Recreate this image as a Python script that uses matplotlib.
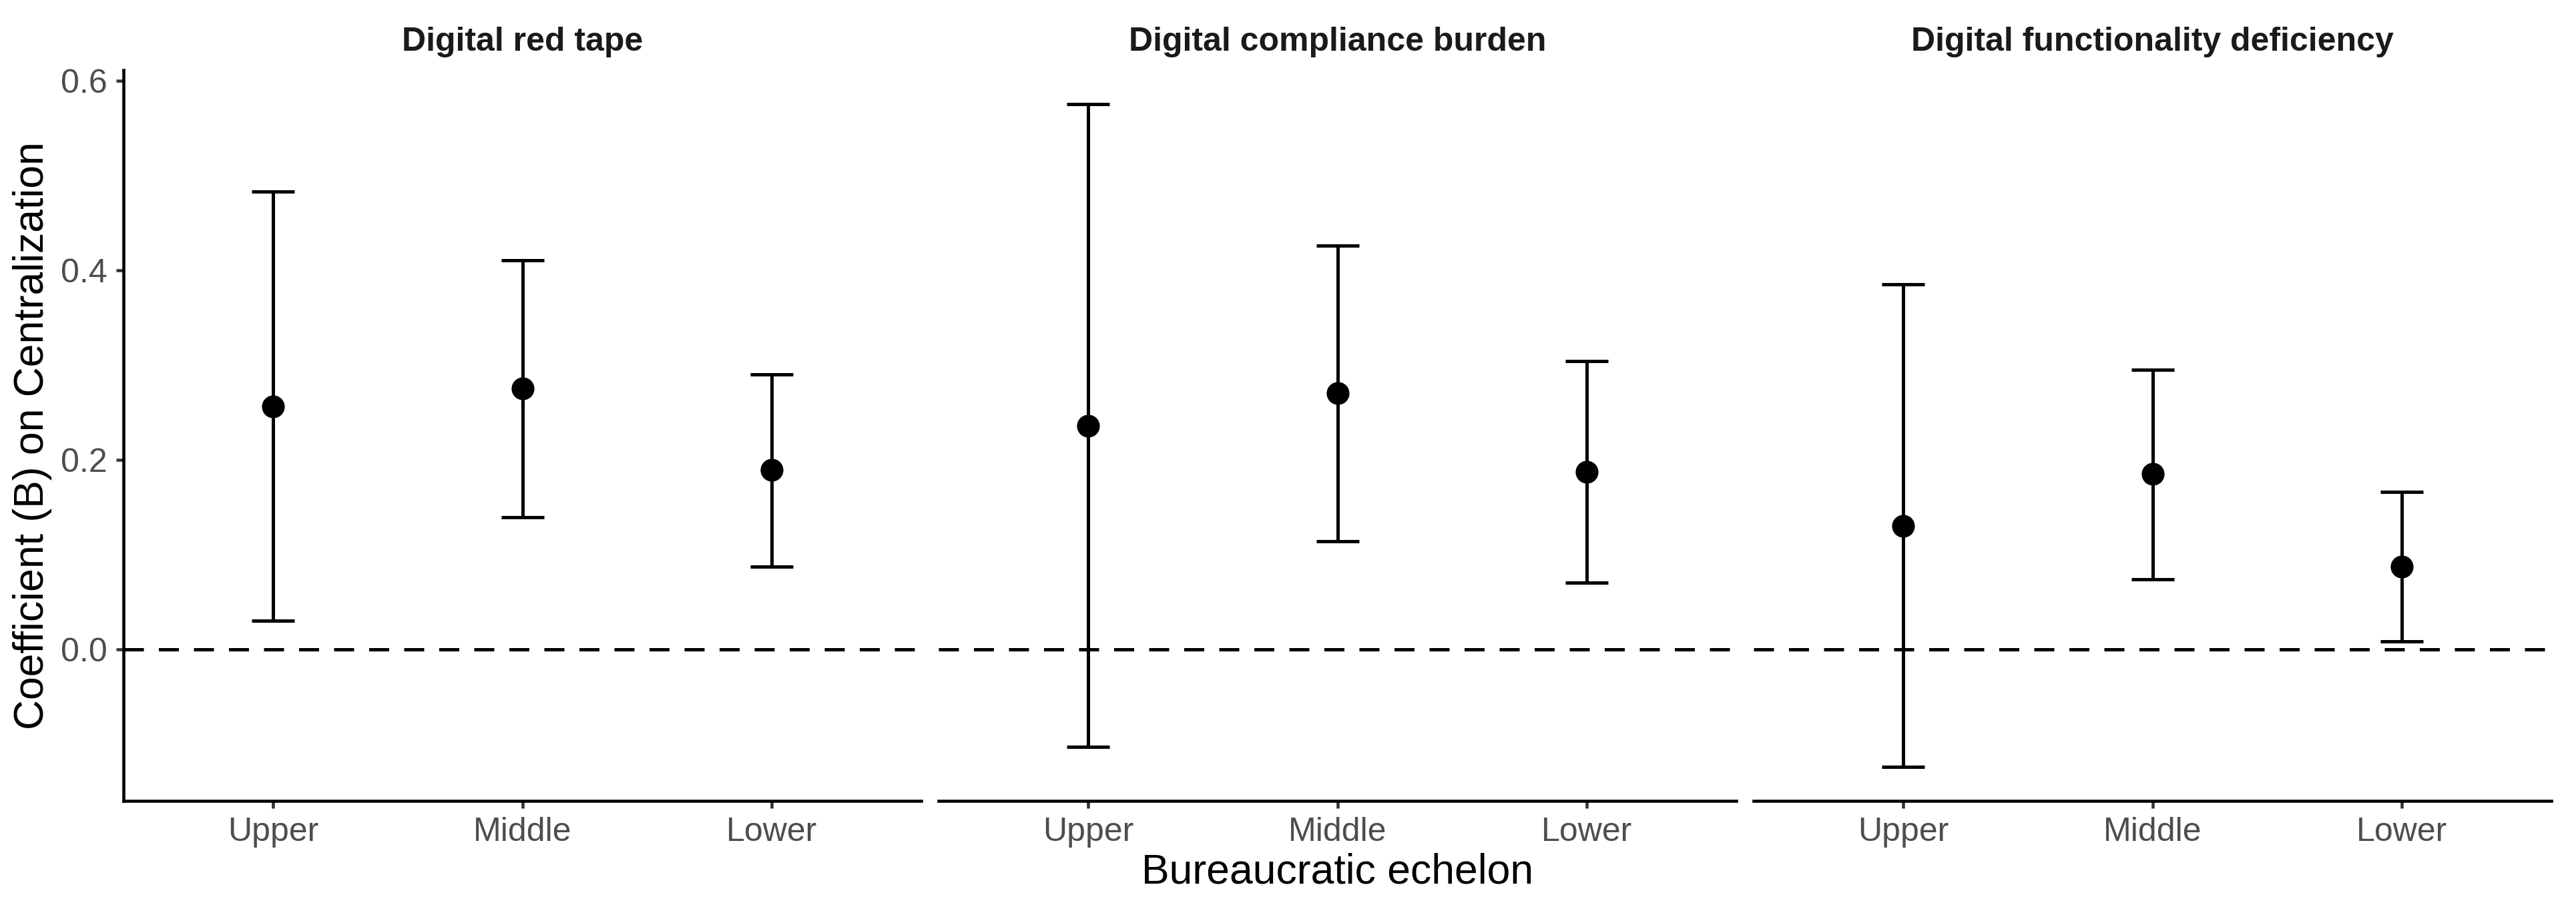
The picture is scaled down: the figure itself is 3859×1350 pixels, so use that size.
import numpy as np
import matplotlib.pyplot as plt

plt.rcParams['font.family'] = ['Liberation Sans', 'DejaVu Sans']

# Data
panels = ["Digital red tape", "Digital compliance burden", "Digital functionality deficiency"]
echelons = ["Upper", "Middle", "Lower"]

coef_red_tape = [0.256, 0.275, 0.189]
lo_red_tape = [0.030, 0.139, 0.087]
hi_red_tape = [0.483, 0.410, 0.290]

coef_compliance = [0.236, 0.270, 0.187]
lo_compliance = [-0.103, 0.114, 0.070]
hi_compliance = [0.575, 0.426, 0.304]

coef_function = [0.130, 0.185, 0.087]
lo_function = [-0.124, 0.074, 0.008]
hi_function = [0.385, 0.295, 0.166]

coefs = [coef_red_tape, coef_compliance, coef_function]
lows = [lo_red_tape, lo_compliance, lo_function]
highs = [hi_red_tape, hi_compliance, hi_function]

W, H = 3859, 1350
fig = plt.figure(figsize=(W / 300, H / 300), dpi=300)

lefts = [185, 1406, 2627]
pw = 1195
bottom_px, top_px = 1200, 105

axes = []
for i, name in enumerate(panels):
    ax = fig.add_axes([lefts[i] / W, 1 - bottom_px / H, pw / W, (bottom_px - top_px) / H])
    axes.append(ax)
    x = np.arange(1, 4)
    c = np.array(coefs[i])
    lo = np.array(lows[i])
    hi = np.array(highs[i])
    ax.axhline(0, color="black", lw=1.2, linestyle=(0, (6, 4.5)), zorder=1)
    ax.errorbar(x, c, yerr=[c - lo, hi - c], fmt="none", ecolor="black",
                elinewidth=1.2, capsize=7.7, capthick=1.2, zorder=2)
    ax.plot(x, c, "o", color="black", markersize=7.2, zorder=3)

    ax.set_xlim(0.4, 3.6)
    ax.set_ylim(-0.160, 0.611)
    ax.set_xticks(x)
    ax.set_xticklabels(echelons)
    ax.set_yticks([0.0, 0.2, 0.4, 0.6])
    ax.set_yticklabels(["0.0", "0.2", "0.4", "0.6"])
    for s in ["top", "right"]:
        ax.spines[s].set_visible(False)
    ax.spines["bottom"].set_linewidth(1.1)
    ax.spines["left"].set_linewidth(1.1)
    ax.tick_params(axis="both", length=2.75, width=1.1, color="#333333",
                   labelsize=12, labelcolor="#4D4D4D", pad=3)
    if i > 0:
        ax.spines["left"].set_visible(False)
        ax.tick_params(axis="y", left=False, labelleft=False)
    ax.set_title(name, fontsize=12, fontweight="bold", color="#1A1A1A", pad=7)

fig.text((185 + 3822) / 2 / W, 1 - 1307 / H, "Bureaucratic echelon",
         ha="center", va="center", fontsize=15)
fig.text(49 / W, 1 - (top_px + bottom_px) / 2 / H, "Coefficient (B) on Centralization",
         ha="center", va="center", rotation=90, fontsize=15)

fig.savefig("out.png", dpi=300, facecolor="white")
